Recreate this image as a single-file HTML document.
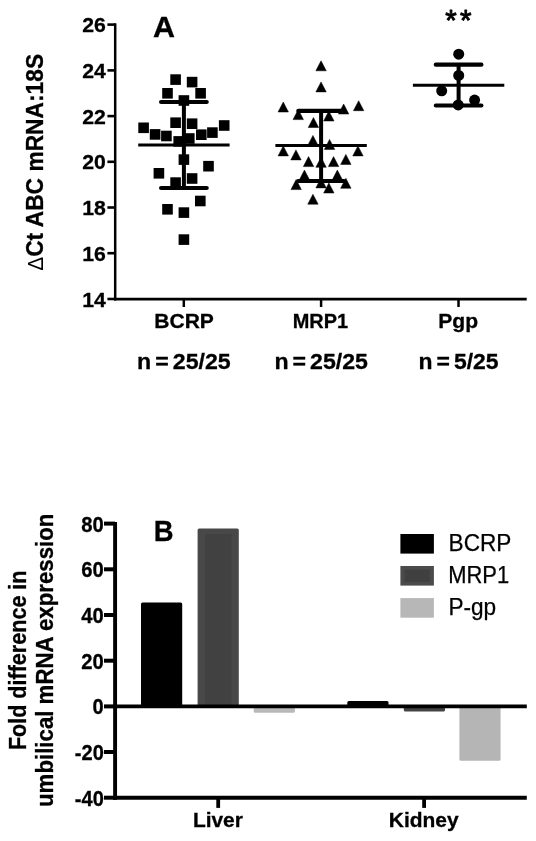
<!DOCTYPE html><html><head><meta charset="utf-8"><title>Figure</title>
<style>html,body{margin:0;padding:0;background:#fff}svg{display:block}text{font-family:"Liberation Sans", Arial, Helvetica, sans-serif;fill:#000}.b{font-weight:bold;stroke:#000;stroke-width:.3px}</style></head><body>
<svg width="536" height="841" viewBox="0 0 536 841">
<rect width="536" height="841" fill="#fff"/>
<g stroke="#000" fill="none">
<path d="M115.2 23.3V300.4" stroke-width="2.5"/>
<path d="M114 299.1H526.7" stroke-width="2.6"/>
<path d="M107.4 299.0H115" stroke-width="2.6"/>
<path d="M107.4 253.2H115" stroke-width="2.6"/>
<path d="M107.4 207.5H115" stroke-width="2.6"/>
<path d="M107.4 161.8H115" stroke-width="2.6"/>
<path d="M107.4 116.1H115" stroke-width="2.6"/>
<path d="M107.4 70.4H115" stroke-width="2.6"/>
<path d="M107.4 24.6H115" stroke-width="2.6"/>
<path d="M183.8 298V307" stroke-width="2.5"/>
<path d="M321.1 298V307" stroke-width="2.5"/>
<path d="M458.5 298V307" stroke-width="2.5"/>
</g>
<text x="105.8" y="306.5" font-size="21" text-anchor="end" class="b" textLength="23.6" lengthAdjust="spacingAndGlyphs" >14</text>
<text x="105.8" y="260.8" font-size="21" text-anchor="end" class="b" textLength="23.6" lengthAdjust="spacingAndGlyphs" >16</text>
<text x="105.8" y="215.0" font-size="21" text-anchor="end" class="b" textLength="23.6" lengthAdjust="spacingAndGlyphs" >18</text>
<text x="105.8" y="169.3" font-size="21" text-anchor="end" class="b" textLength="23.6" lengthAdjust="spacingAndGlyphs" >20</text>
<text x="105.8" y="123.6" font-size="21" text-anchor="end" class="b" textLength="23.6" lengthAdjust="spacingAndGlyphs" >22</text>
<text x="105.8" y="77.9" font-size="21" text-anchor="end" class="b" textLength="23.6" lengthAdjust="spacingAndGlyphs" >24</text>
<text x="105.8" y="32.1" font-size="21" text-anchor="end" class="b" textLength="23.6" lengthAdjust="spacingAndGlyphs" >26</text>
<text x="152.9" y="37.3" font-size="29" text-anchor="start" class="b" textLength="22" lengthAdjust="spacingAndGlyphs" >A</text>
<text x="184.05" y="327.8" font-size="20.8" text-anchor="middle" class="b" textLength="59.6" lengthAdjust="spacingAndGlyphs" >BCRP</text>
<text x="320.4" y="327.8" font-size="20.8" text-anchor="middle" class="b" textLength="55.4" lengthAdjust="spacingAndGlyphs" >MRP1</text>
<text x="458.2" y="327.8" font-size="20.8" text-anchor="middle" class="b" textLength="39.8" lengthAdjust="spacingAndGlyphs" >Pgp</text>
<text x="183.9" y="369.1" font-size="22.9" text-anchor="middle" class="b" textLength="93.6" lengthAdjust="spacingAndGlyphs" word-spacing="-2.4">n = 25/25</text>
<text x="321.2" y="369.1" font-size="22.9" text-anchor="middle" class="b" textLength="93.6" lengthAdjust="spacingAndGlyphs" word-spacing="-2.4">n = 25/25</text>
<text x="458.6" y="369.1" font-size="22.9" text-anchor="middle" class="b" textLength="80" lengthAdjust="spacingAndGlyphs" word-spacing="-2.4">n = 5/25</text>
<g transform="translate(43.3 270.8) rotate(-90)"><text x="0" y="0" font-size="23.8" textLength="217" lengthAdjust="spacingAndGlyphs"><tspan font-weight="normal" font-size="21.8">Δ</tspan><tspan class="b">Ct ABC mRNA:18S</tspan></text></g>
<text x="451.1" y="29.6" font-size="29.5" text-anchor="middle" stroke="#000" stroke-width="0.9" stroke-linejoin="round">*</text>
<text x="465.8" y="29.6" font-size="29.5" text-anchor="middle" stroke="#000" stroke-width="0.9" stroke-linejoin="round">*</text>
<g fill="#000">
<rect x="170.3" y="74.3" width="10.6" height="10.6"/>
<rect x="186.8" y="76.8" width="10.6" height="10.6"/>
<rect x="162.2" y="88.0" width="10.6" height="10.6"/>
<rect x="195.3" y="88.0" width="10.6" height="10.6"/>
<rect x="178.6" y="95.2" width="10.6" height="10.6"/>
<rect x="170.3" y="117.4" width="10.6" height="10.6"/>
<rect x="186.8" y="118.4" width="10.6" height="10.6"/>
<rect x="138.3" y="122.5" width="10.6" height="10.6"/>
<rect x="218.9" y="120.2" width="10.6" height="10.6"/>
<rect x="149.8" y="129.1" width="10.6" height="10.6"/>
<rect x="207.1" y="127.3" width="10.6" height="10.6"/>
<rect x="161.1" y="130.7" width="10.6" height="10.6"/>
<rect x="196.0" y="129.4" width="10.6" height="10.6"/>
<rect x="173.4" y="136.1" width="10.6" height="10.6"/>
<rect x="184.0" y="133.2" width="10.6" height="10.6"/>
<rect x="178.6" y="154.3" width="10.6" height="10.6"/>
<rect x="203.2" y="160.9" width="10.6" height="10.6"/>
<rect x="153.6" y="168.0" width="10.6" height="10.6"/>
<rect x="186.8" y="173.2" width="10.6" height="10.6"/>
<rect x="170.3" y="177.3" width="10.6" height="10.6"/>
<rect x="195.0" y="195.7" width="10.6" height="10.6"/>
<rect x="162.2" y="204.0" width="10.6" height="10.6"/>
<rect x="178.6" y="207.3" width="10.6" height="10.6"/>
<rect x="178.6" y="234.3" width="10.6" height="10.6"/>
<path d="M321.05 60.80L326.25 70.80H315.85Z" stroke="#000" stroke-width="0.5" stroke-linejoin="round"/>
<path d="M321.05 81.90L326.25 91.90H315.85Z" stroke="#000" stroke-width="0.5" stroke-linejoin="round"/>
<path d="M283.25 102.00L288.45 112.00H278.05Z" stroke="#000" stroke-width="0.5" stroke-linejoin="round"/>
<path d="M358.65 100.70L363.85 110.70H353.45Z" stroke="#000" stroke-width="0.5" stroke-linejoin="round"/>
<path d="M343.65 104.00L348.85 114.00H338.45Z" stroke="#000" stroke-width="0.5" stroke-linejoin="round"/>
<path d="M298.25 109.60L303.45 119.60H293.05Z" stroke="#000" stroke-width="0.5" stroke-linejoin="round"/>
<path d="M328.85 111.00L334.05 121.00H323.65Z" stroke="#000" stroke-width="0.5" stroke-linejoin="round"/>
<path d="M313.45 117.50L318.65 127.50H308.25Z" stroke="#000" stroke-width="0.5" stroke-linejoin="round"/>
<path d="M312.95 135.40L318.15 145.40H307.75Z" stroke="#000" stroke-width="0.5" stroke-linejoin="round"/>
<path d="M329.55 139.40L334.75 149.40H324.35Z" stroke="#000" stroke-width="0.5" stroke-linejoin="round"/>
<path d="M283.25 145.90L288.45 155.90H278.05Z" stroke="#000" stroke-width="0.5" stroke-linejoin="round"/>
<path d="M357.95 145.90L363.15 155.90H352.75Z" stroke="#000" stroke-width="0.5" stroke-linejoin="round"/>
<path d="M295.95 149.90L301.15 159.90H290.75Z" stroke="#000" stroke-width="0.5" stroke-linejoin="round"/>
<path d="M345.85 154.40L351.05 164.40H340.65Z" stroke="#000" stroke-width="0.5" stroke-linejoin="round"/>
<path d="M308.55 156.60L313.75 166.60H303.35Z" stroke="#000" stroke-width="0.5" stroke-linejoin="round"/>
<path d="M321.05 157.30L326.25 167.30H315.85Z" stroke="#000" stroke-width="0.5" stroke-linejoin="round"/>
<path d="M333.55 156.60L338.75 166.60H328.35Z" stroke="#000" stroke-width="0.5" stroke-linejoin="round"/>
<path d="M304.45 170.10L309.65 180.10H299.25Z" stroke="#000" stroke-width="0.5" stroke-linejoin="round"/>
<path d="M337.35 170.10L342.55 180.10H332.15Z" stroke="#000" stroke-width="0.5" stroke-linejoin="round"/>
<path d="M296.15 179.60L301.35 189.60H290.95Z" stroke="#000" stroke-width="0.5" stroke-linejoin="round"/>
<path d="M321.05 177.90L326.25 187.90H315.85Z" stroke="#000" stroke-width="0.5" stroke-linejoin="round"/>
<path d="M345.85 178.30L351.05 188.30H340.65Z" stroke="#000" stroke-width="0.5" stroke-linejoin="round"/>
<path d="M328.85 183.00L334.05 193.00H323.65Z" stroke="#000" stroke-width="0.5" stroke-linejoin="round"/>
<path d="M312.95 194.20L318.15 204.20H307.75Z" stroke="#000" stroke-width="0.5" stroke-linejoin="round"/>
<circle cx="458.7" cy="54.2" r="5.5"/>
<circle cx="458.7" cy="75.4" r="5.5"/>
<circle cx="441.7" cy="90.8" r="5.5"/>
<circle cx="474.6" cy="100.1" r="5.5"/>
<circle cx="458.2" cy="104.9" r="5.5"/>
</g>
<g stroke="#000" fill="none" stroke-linecap="round">
<path d="M183.9 102V188" stroke-width="4" stroke-linecap="butt"/>
<path d="M161.1 102H206.7M161.1 188H206.7" stroke-width="4.2"/>
<path d="M138.2 145.1H229.6" stroke-width="3" stroke-linecap="butt"/>
<path d="M321.1 110.9V181.0" stroke-width="4" stroke-linecap="butt"/>
<path d="M298.3 110.9H343.9M298.3 181.0H343.9" stroke-width="4.2"/>
<path d="M275.4 145.6H366.8" stroke-width="3" stroke-linecap="butt"/>
<path d="M458.6 64.7V105.5" stroke-width="4" stroke-linecap="butt"/>
<path d="M435.8 64.7H481.4M435.8 105.5H481.4" stroke-width="4.2"/>
<path d="M412.9 85.3H504.3" stroke-width="3" stroke-linecap="butt"/>
</g>
<rect x="141" y="602.4" width="41.2" height="103.9" fill="#000" rx="1.5"/>
<rect x="197.6" y="528.4" width="41.2" height="177.9" fill="#484848" rx="1.5"/>
<rect x="205" y="534" width="26.4" height="171" fill="#414141"/>
<rect x="253.7" y="706.4" width="41.2" height="6.3" fill="#b9b9b9" rx="1.5"/>
<rect x="347.3" y="701.1" width="41.2" height="5.3" fill="#000" rx="1.5"/>
<rect x="403.8" y="706.4" width="41.2" height="5.2" fill="#434343" rx="1.5"/>
<rect x="459.4" y="706.4" width="41.2" height="54.4" fill="#b5b5b5" rx="1.5"/>
<g stroke="#000" fill="none">
<path d="M115.1 521.9V799.7" stroke-width="3.9"/>
<path d="M113.2 797.75H526.8" stroke-width="3.9"/>
<path d="M113.2 706.35H526.8" stroke-width="3.8"/>
<path d="M104 797.7H115" stroke-width="4"/>
<path d="M104 752.0H115" stroke-width="4"/>
<path d="M104 706.4H115" stroke-width="4"/>
<path d="M104 660.7H115" stroke-width="4"/>
<path d="M104 615.0H115" stroke-width="4"/>
<path d="M104 569.3H115" stroke-width="4"/>
<path d="M104 523.6H115" stroke-width="4"/>
<path d="M218.2 797V807.9" stroke-width="3.8"/>
<path d="M424.1 797V807.9" stroke-width="3.8"/>
</g>
<text x="103.8" y="805.6" font-size="21.6" text-anchor="end" class="b" textLength="29" lengthAdjust="spacingAndGlyphs" >-40</text>
<text x="103.8" y="759.9" font-size="21.6" text-anchor="end" class="b" textLength="29" lengthAdjust="spacingAndGlyphs" >-20</text>
<text x="103.8" y="714.2" font-size="21.6" text-anchor="end" class="b" textLength="11.2" lengthAdjust="spacingAndGlyphs" >0</text>
<text x="103.8" y="668.6" font-size="21.6" text-anchor="end" class="b" textLength="22.5" lengthAdjust="spacingAndGlyphs" >20</text>
<text x="103.8" y="622.9" font-size="21.6" text-anchor="end" class="b" textLength="22.5" lengthAdjust="spacingAndGlyphs" >40</text>
<text x="103.8" y="577.2" font-size="21.6" text-anchor="end" class="b" textLength="22.5" lengthAdjust="spacingAndGlyphs" >60</text>
<text x="103.8" y="531.5" font-size="21.6" text-anchor="end" class="b" textLength="22.5" lengthAdjust="spacingAndGlyphs" >80</text>
<text x="153.7" y="540.7" font-size="29.6" text-anchor="start" class="b" textLength="19.8" lengthAdjust="spacingAndGlyphs" >B</text>
<text x="217.9" y="827.1" font-size="20.8" text-anchor="middle" class="b" textLength="50" lengthAdjust="spacingAndGlyphs" >Liver</text>
<text x="423.7" y="827.3" font-size="20.8" text-anchor="middle" class="b" textLength="69.8" lengthAdjust="spacingAndGlyphs" >Kidney</text>
<g transform="translate(25.6 660.3) rotate(-90)"><text x="0" y="0" font-size="23.4" class="b" text-anchor="middle" textLength="179.6" lengthAdjust="spacingAndGlyphs">Fold difference in</text><text x="0" y="27.4" font-size="23.4" class="b" text-anchor="middle" textLength="293.4" lengthAdjust="spacingAndGlyphs">umbilical mRNA expression</text></g>
<rect x="400.4" y="534.0" width="33.5" height="19.6" fill="#000"/>
<text x="448.6" y="550.9" font-size="23" text-anchor="start" textLength="62.8" lengthAdjust="spacingAndGlyphs" stroke="#000" stroke-width="0.25">BCRP</text>
<rect x="400.4" y="566.0" width="33.5" height="19.6" fill="#4b4b4b"/>
<rect x="404.6" y="569.6" width="25" height="12.4" fill="#404040"/>
<text x="448.2" y="582.9" font-size="23" text-anchor="start" textLength="61" lengthAdjust="spacingAndGlyphs" stroke="#000" stroke-width="0.25">MRP1</text>
<rect x="400.4" y="598.1" width="33.5" height="19.6" fill="#b7b7b7"/>
<text x="448.4" y="615.0" font-size="23" text-anchor="start" textLength="47.8" lengthAdjust="spacingAndGlyphs" stroke="#000" stroke-width="0.25">P-gp</text>
</svg></body></html>
